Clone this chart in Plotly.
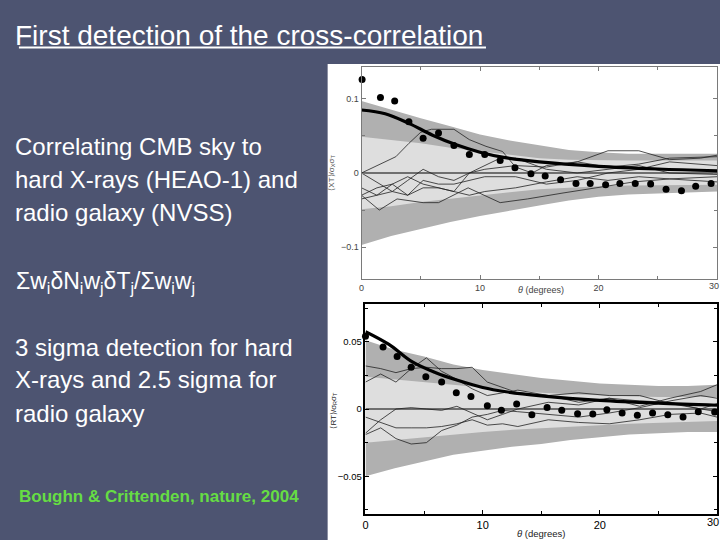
import plotly.graph_objects as go

# ---------------- data: top panel (hard X-rays x CMB) ----------------
top_theta = [0.05, 1.6, 2.8, 4.0, 5.2, 6.5, 7.8, 9.1, 10.4, 11.7, 12.95, 14.3,
             15.5, 16.8, 18.1, 19.3, 20.6, 21.8, 23.1, 24.4, 25.7, 27.0, 28.2, 29.5]
top_corr = [0.126, 0.102, 0.097, 0.069, 0.047, 0.054, 0.037, 0.025, 0.025, 0.017,
            0.007, -0.001, -0.004, -0.009, -0.014, -0.014, -0.016, -0.014, -0.014,
            -0.015, -0.022, -0.024, -0.018, -0.014]
top_model_theta = [0, 2, 4, 6, 8, 10, 12, 15, 20, 25, 30]
top_model = [0.085, 0.080, 0.067, 0.051, 0.038, 0.028, 0.021, 0.015, 0.009, 0.0054, 0.003]

band_theta = [0, 2.5, 5, 7.5, 10, 12.5, 15, 17.5, 20, 22.5, 25, 27.5, 30]
top_outer_hi = [0.097, 0.085, 0.074, 0.063, 0.052, 0.044, 0.037, 0.031, 0.028, 0.026, 0.026, 0.026, 0.026]
top_outer_lo = [-0.097, -0.085, -0.075, -0.066, -0.058, -0.051, -0.044, -0.037, -0.032, -0.029, -0.027, -0.026, -0.025]
top_inner_hi = [0.049, 0.045, 0.040, 0.034, 0.029, 0.024, 0.020, 0.018, 0.017, 0.017, 0.017, 0.017, 0.017]
top_inner_lo = [-0.049, -0.045, -0.039, -0.034, -0.030, -0.026, -0.022, -0.020, -0.018, -0.017, -0.017, -0.016, -0.016]

top_sim1_x = [0, 1.5, 2.9, 4.0, 5.0, 5.9, 7.8, 9.1, 10.5, 11.9, 13.0, 14.4, 15.6, 18.2, 20.8, 23.4, 26.0, 28.6, 30]
top_sim1_y = [0.0, 0.011, 0.022, 0.040, 0.055, 0.059, 0.059, 0.045, 0.036, 0.029, 0.008, 0.0, 0.010, 0.015, 0.030, 0.030, 0.018, 0.020, 0.024]
top_sim2_x = [0, 1.5, 3.0, 5.2, 6.5, 9.0, 11.7, 14.0, 17.0, 20.0, 23.0, 26.0, 30]
top_sim2_y = [-0.030, -0.050, -0.035, -0.040, -0.040, -0.020, -0.040, -0.035, -0.027, -0.020, -0.012, -0.008, -0.005]
top_sim3_x = [0, 1.3, 2.6, 3.9, 5.2, 6.5, 7.8, 9.1, 10.4, 13.0, 15.6, 18.2, 20.8, 23.4, 26.0, 30]
top_sim3_y = [0.0, -0.012, -0.025, -0.010, 0.005, -0.005, -0.010, 0.0, 0.005, 0.010, 0.008, 0.015, 0.008, 0.012, 0.020, 0.022]
top_sim4_x = [0, 1.3, 2.6, 3.9, 5.2, 6.5, 7.8, 10.4, 13.0, 15.6, 18.2, 20.8, 23.4, 26.0, 30]
top_sim4_y = [-0.030, -0.020, -0.015, -0.030, -0.010, -0.015, -0.015, -0.005, -0.005, -0.015, -0.010, 0.0, 0.005, 0.015, 0.010]
top_sim5_x = [0, 1.3, 2.6, 3.9, 5.2, 7.8, 9.1, 10.4, 13.0, 15.6, 18.2, 20.8, 23.4, 26.0, 30]
top_sim5_y = [-0.035, -0.030, -0.015, -0.005, -0.015, -0.025, -0.030, -0.025, -0.020, -0.012, -0.005, -0.010, -0.005, -0.008, -0.012]
top_sim6_x = [0, 1.3, 2.6, 3.9, 5.2, 6.5, 7.8, 9.1, 11.7, 13.0, 15.6, 18.2, 20.8, 23.4, 26.0, 30]
top_sim6_y = [-0.020, -0.030, -0.025, -0.030, -0.020, -0.020, -0.025, 0.0, 0.020, 0.020, 0.005, 0.0, 0.005, 0.010, 0.0, -0.002]

# ---------------- data: bottom panel (radio galaxies x CMB) ----------------
bot_theta = [0.0, 1.5, 2.7, 3.9, 5.15, 6.5, 7.75, 9.0, 10.4, 11.6, 12.9, 14.2,
             15.5, 16.75, 18.1, 19.4, 20.6, 21.9, 23.2, 24.5, 25.8, 27.1, 28.4, 29.8]
bot_corr = [0.054, 0.046, 0.039, 0.031, 0.024, 0.020, 0.012, 0.0092, 0.0025, -0.001,
            0.0037, -0.0042, 0.0012, -0.001, -0.0035, -0.0037, -0.0005, -0.003,
            -0.0047, -0.003, -0.0042, -0.006, -0.002, -0.0022]
bot_model_theta = [0, 2, 4, 6, 8, 10, 12, 15, 20, 25, 30]
bot_model = [0.0575, 0.048, 0.035, 0.027, 0.021, 0.016, 0.0128, 0.0098, 0.0064, 0.0043, 0.0028]

bot_outer_hi = [0.051, 0.044, 0.039, 0.033, 0.029, 0.026, 0.023, 0.021, 0.019, 0.018, 0.017, 0.017, 0.018]
bot_outer_lo = [-0.050, -0.044, -0.039, -0.034, -0.031, -0.028, -0.026, -0.023, -0.021, -0.019, -0.018, -0.017, -0.017]
bot_inner_hi = [0.024, 0.022, 0.020, 0.018, 0.016, 0.014, 0.012, 0.011, 0.010, 0.0095, 0.009, 0.009, 0.009]
bot_inner_lo = [-0.025, -0.023, -0.021, -0.019, -0.017, -0.0155, -0.014, -0.013, -0.012, -0.011, -0.010, -0.0095, -0.009]

bot_sim_x = [0, 1.3, 2.6, 3.9, 5.2, 6.5, 7.8, 9.1, 10.4, 11.7, 13.0, 15.6, 18.2, 20.8, 23.4, 26.0, 28.6, 30]
bot_sim1_y = [0.032, 0.030, 0.027, 0.030, 0.031, 0.030, 0.030, 0.031, 0.020, 0.016, 0.012, 0.010, 0.012, 0.010, 0.010, 0.004, 0.0, -0.002]
bot_sim2_y = [0.020, 0.026, 0.020, 0.030, 0.038, 0.028, 0.022, 0.015, 0.010, 0.012, 0.014, 0.010, 0.005, 0.008, 0.002, 0.008, 0.013, 0.018]
bot_sim3_y = [-0.018, -0.008, 0.0, 0.001, 0.0, -0.001, 0.002, -0.003, -0.008, -0.004, 0.0, 0.005, 0.003, 0.008, 0.006, 0.005, 0.0, 0.004]
bot_sim4_y = [-0.006, -0.010, -0.014, -0.014, -0.014, -0.013, -0.011, -0.008, -0.012, -0.011, -0.013, -0.008, -0.010, -0.011, -0.008, -0.004, -0.003, -0.006]
bot_sim5_y = [-0.019, -0.014, -0.022, -0.026, -0.025, -0.016, -0.012, -0.006, -0.004, -0.001, -0.002, -0.004, -0.006, -0.003, 0.001, 0.006, 0.010, 0.008]

zero_x = [0, 30]
zero_y = [0, 0]

x_ticks = [0, 10, 20, 30]
x_ticktext = ["0", "10", "20", ""]   # the last label ("30") is placed by hand so it stays inside the page
x_last_label = "30"
top_yticks = [-0.1, 0, 0.1]
top_yticktext = ["\u22120.1", "0", "0.1"]
bot_yticks = [-0.05, 0, 0.05]
bot_yticktext = ["\u22120.05", "0", "0.05"]

# ---------------- styles ----------------
BG = "#4d5471"
DARK = "#b0b0b0"
LIGHT = "#dedede"
W, H = 720, 540

fig = go.Figure()


def band(x, hi, lo, color, xa, ya):
    fig.add_trace(go.Scatter(x=list(x) + list(x)[::-1], y=list(hi) + list(lo)[::-1],
                             fill="toself", fillcolor=color, line=dict(width=0),
                             mode="lines", hoverinfo="skip", showlegend=False,
                             xaxis=xa, yaxis=ya))


def line(x, y, width, xa, ya, color="black"):
    fig.add_trace(go.Scatter(x=x, y=y, mode="lines", line=dict(color=color, width=width),
                             showlegend=False, xaxis=xa, yaxis=ya))


# top panel
band(band_theta, top_outer_hi, top_outer_lo, DARK, "x", "y")
band(band_theta, top_inner_hi, top_inner_lo, LIGHT, "x", "y")
line(zero_x, zero_y, 1, "x", "y")
for sx, sy in [(top_sim1_x, top_sim1_y), (top_sim2_x, top_sim2_y), (top_sim3_x, top_sim3_y),
               (top_sim4_x, top_sim4_y), (top_sim5_x, top_sim5_y), (top_sim6_x, top_sim6_y)]:
    line(sx, sy, 0.8, "x", "y", "#222")
fig.add_trace(go.Scatter(x=top_model_theta, y=top_model, mode="lines",
                         line=dict(color="black", width=3.2, shape="spline"),
                         showlegend=False, xaxis="x", yaxis="y"))
fig.add_trace(go.Scatter(x=top_theta, y=top_corr, mode="markers", cliponaxis=False,
                         marker=dict(color="black", size=7), showlegend=False,
                         xaxis="x", yaxis="y"))

# bottom panel
band(band_theta, bot_outer_hi, bot_outer_lo, DARK, "x2", "y2")
band(band_theta, bot_inner_hi, bot_inner_lo, LIGHT, "x2", "y2")
line(zero_x, zero_y, 1, "x2", "y2")
for sy in [bot_sim1_y, bot_sim2_y, bot_sim3_y, bot_sim4_y, bot_sim5_y]:
    line(bot_sim_x, sy, 0.8, "x2", "y2", "#222")
fig.add_trace(go.Scatter(x=bot_model_theta, y=bot_model, mode="lines",
                         line=dict(color="black", width=3.2, shape="spline"),
                         showlegend=False, xaxis="x2", yaxis="y2"))
fig.add_trace(go.Scatter(x=bot_theta, y=bot_corr, mode="markers", cliponaxis=False,
                         marker=dict(color="black", size=7), showlegend=False,
                         xaxis="x2", yaxis="y2"))

FONT = "Liberation Sans, Arial, sans-serif"

axis_top = dict(showgrid=False, zeroline=False, mirror="allticks", ticks="inside",
                linecolor="#7a7a7a", linewidth=1, tickcolor="#7a7a7a", ticklen=4,
                tickfont=dict(family=FONT, size=9, color="#444"))
axis_bot = dict(showgrid=False, zeroline=False, mirror="allticks", ticks="inside",
                linecolor="black", linewidth=1.5, tickcolor="black", ticklen=4,
                tickfont=dict(family=FONT, size=11, color="black"))

fig.update_layout(
    width=W, height=H, autosize=False,
    margin=dict(l=0, r=0, t=0, b=0),
    paper_bgcolor=BG, plot_bgcolor="white",
    xaxis=dict(axis_top, domain=[360 / W, 717 / W], range=[0, 30], anchor="y",
               tickvals=x_ticks, ticktext=x_ticktext,
               minor=dict(dtick=5, ticks="inside", ticklen=3, tickcolor="#7a7a7a")),
    yaxis=dict(axis_top, domain=[1 - 279 / H, 1 - 67 / H], range=[-0.143, 0.143], anchor="x",
               tickvals=top_yticks, ticktext=top_yticktext,
               minor=dict(dtick=0.05, ticks="inside", ticklen=3, tickcolor="#7a7a7a")),
    xaxis2=dict(axis_bot, domain=[364 / W, 717 / W], range=[0, 30], anchor="y2",
                tickvals=x_ticks, ticktext=x_ticktext,
                minor=dict(dtick=5, ticks="inside", ticklen=3, tickcolor="black")),
    yaxis2=dict(axis_bot, domain=[1 - 514 / H, 1 - 304 / H], range=[-0.078, 0.078], anchor="x2",
                tickvals=bot_yticks, ticktext=bot_yticktext,
                tickfont=dict(family=FONT, size=9.5, color="black"),
                minor=dict(dtick=0.025, ticks="inside", ticklen=3, tickcolor="black")),
)

# white panel behind the graphs
fig.add_shape(type="rect", xref="paper", yref="paper", x0=326 / W, x1=1, y0=0, y1=1 - 64 / H,
              fillcolor="white", line=dict(width=0), layer="below")
# title underline
fig.add_shape(type="line", xref="paper", yref="paper", x0=16 / W, x1=485 / W,
              y0=1 - 47.5 / H, y1=1 - 47.5 / H, line=dict(color="white", width=2))


def text(px, py, s, size, color="white", anchor="left", angle=0, family=FONT):
    fig.add_annotation(x=px / W, y=1 - py / H, xref="paper", yref="paper", text=s,
                       showarrow=False, xanchor=anchor, yanchor="middle", textangle=angle,
                       font=dict(family=family, size=size, color=color))


text(10, 36, "First detection of the cross-correlation", 28)
text(10, 146, "Correlating CMB sky to", 24)
text(10, 179, "hard X-rays (HEAO-1) and", 24)
text(10, 212, "radio galaxy (NVSS)", 24)
text(11, 282, "\u03a3w<sub>i</sub>\u03b4N<sub>i</sub>w<sub>j</sub>\u03b4T<sub>j</sub>/\u03a3w<sub>i</sub>w<sub>j</sub>", 23)
text(10, 347, "3 sigma detection for hard", 24)
text(10, 379, "X-rays and 2.5 sigma for", 24)
text(10, 413, "radio galaxy", 24)
text(14, 496, "<b>Boughn &amp; Crittenden, nature, 2004</b>", 17, color="#66dd44")

# last x tick labels, kept inside the page edge
text(721, 286, x_last_label, 9, color="#444", anchor="right")
text(721, 522, x_last_label, 11, color="black", anchor="right")

# axis titles
text(330, 173, "\u27e8XT\u27e9/\u03c3<sub>X</sub>\u03c3<sub>T</sub>", 8, color="#555", anchor="center", angle=-90)
text(540, 290, "<i>\u03b8</i> (degrees)", 9, color="#444", anchor="center")
text(332, 410, "\u27e8RT\u27e9/\u03c3<sub>R</sub>\u03c3<sub>T</sub>", 8, color="#222", anchor="center", angle=-90)
text(540, 533, "<i>\u03b8</i> (degrees)", 9.5, color="#222", anchor="center")

fig.write_html("out.html", config={"displayModeBar": False},
               post_script="document.body.style.margin='0';document.body.style.padding='0';"
                           "document.documentElement.style.overflow='hidden';")
